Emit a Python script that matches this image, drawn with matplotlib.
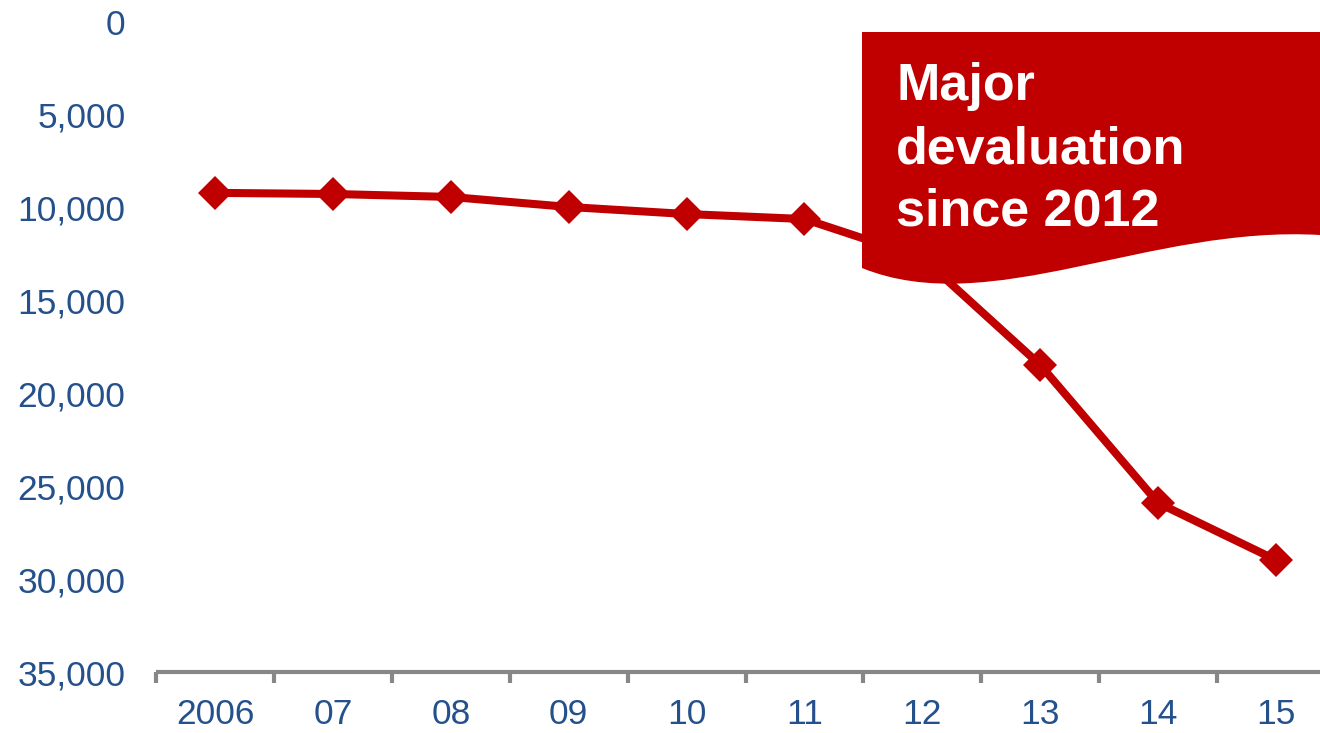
import matplotlib
matplotlib.use("Agg")
import matplotlib.pyplot as plt
from matplotlib.path import Path
from matplotlib.patches import PathPatch
from matplotlib.ticker import FuncFormatter

years = ["2006", "07", "08", "09", "10", "11", "12", "13", "14", "15"]
rate = [9200, 9260, 9420, 9960, 10340, 10610, 12700, 18470, 25900, 28970]
y_ticks = [0, 5000, 10000, 15000, 20000, 25000, 30000, 35000]
note_lines = ["Major", "devaluation", "since 2012"]

RED = "#C00000"
BLUE = "#24508C"
GREY = "#878787"
W, H = 1320, 733


def px(x, y):
    # pixel (from top-left) -> figure fraction
    return x / W, 1 - y / H


def draw_note(fig):
    """Red callout box with a wavy bottom edge"""
    verts = [px(862, 32), px(1320, 32), px(1320, 235),
             px(1150, 225), px(990, 320), px(862, 268),
             px(862, 32)]
    codes = [Path.MOVETO, Path.LINETO, Path.LINETO,
             Path.CURVE4, Path.CURVE4, Path.CURVE4,
             Path.CLOSEPOLY]
    patch = PathPatch(Path(verts, codes), transform=fig.transFigure,
                      facecolor=RED, edgecolor="none", zorder=10)
    fig.patches.append(patch)

    baselines = [100, 163, 225]
    for line, yb in zip(note_lines, baselines):
        fig.text(px(896, 0)[0], px(0, yb)[1], line, color="white",
                 fontsize=37.5, fontweight="bold",
                 ha="left", va="baseline", zorder=11)


def main() -> None:
    plt.rcParams["font.family"] = ["Liberation Sans", "DejaVu Sans"]
    fig = plt.figure(figsize=(W / 100, H / 100), dpi=100)
    left, bottom = px(156, 672)
    right, top = px(1320, 22)
    ax = fig.add_axes([left, bottom, right - left, top - bottom])

    x = list(range(len(years)))
    ax.plot(x, rate, color=RED, linewidth=5.8, marker="D",
            markersize=17, markeredgewidth=0, clip_on=False, zorder=5)

    ax.set_xlim(-0.5, (1320 - 215) / 117.9)
    ax.set_ylim(35000, 0)

    for side in ["top", "right", "left"]:
        ax.spines[side].set_visible(False)
    ax.spines["bottom"].set_color(GREY)
    ax.spines["bottom"].set_linewidth(3)
    ax.spines["bottom"].set_capstyle("butt")

    ax.set_xticks(x)
    ax.set_xticklabels(years)
    ax.set_xticks([i - 0.5 for i in range(len(years))], minor=True)
    ax.tick_params(axis="x", which="major", length=0, pad=19,
                   labelsize=25.5, labelcolor=BLUE)
    ax.tick_params(axis="x", which="minor", length=8, width=3,
                   color=GREY, direction="out")

    ax.set_yticks(y_ticks)
    ax.yaxis.set_major_formatter(FuncFormatter(lambda v, p: f"{int(v):,}"))
    ax.tick_params(axis="y", length=0, pad=22, labelsize=25.5,
                   labelcolor=BLUE)

    draw_note(fig)

    fig.savefig("out.png", dpi=100)


if __name__ == "__main__":
    main()
